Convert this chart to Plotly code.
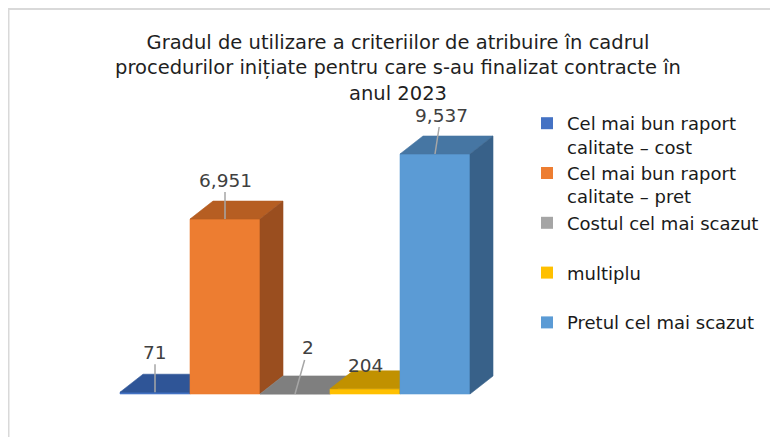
import plotly.graph_objects as go

# ---------------- data ----------------
CATEGORIES = [
    "Cel mai bun raport calitate – cost",
    "Cel mai bun raport calitate – pret",
    "Costul cel mai scazut",
    "multiplu",
    "Pretul cel mai scazut",
]
LEGEND_LABELS = [
    "Cel mai bun raport<br>calitate – cost",
    "Cel mai bun raport<br>calitate – pret",
    "Costul cel mai scazut<br>\u00a0",
    "multiplu<br>\u00a0",
    "Pretul cel mai scazut",
]
VALUES = [71, 6951, 2, 204, 9537]
TITLE = ("Gradul de utilizare a criteriilor de atribuire în cadrul<br>"
         "procedurilor inițiate pentru care s-au finalizat contracte în<br>"
         "anul 2023")

# ---------------- style ----------------
FRONT = ["#4472C4", "#ED7D31", "#A5A5A5", "#FFC000", "#5B9BD5"]
TOP = ["#2F5597", "#B65E22", "#7F7F7F", "#C19100", "#4676A3"]
SIDE = ["#243F70", "#9A4E1F", "#6B6B6B", "#A07800", "#386189"]

W, H = 778, 437
PAGE_MARGIN = 8        # browser default body margin (px)
BAR_PX = 70            # px per category
FIRST_CENTER_PX = 155 - PAGE_MARGIN   # first bar centre
BASE_PX = 394 - PAGE_MARGIN           # floor (from top)
MAX_BAR_PX = 240       # px height of the tallest bar
DEPTH_PX = (23, 18)    # 3-D depth offset in px

LABEL_OFFSETS = [(0, -40), (0, -39), (13, -46), (0, -23), (6, -39)]
LEADER = [True, True, True, False, True]

FONT = "DejaVu Sans"

# axis scales derived from the pixel layout
units_per_px = max(VALUES) / MAX_BAR_PX
x_range = [-FIRST_CENTER_PX / BAR_PX, (W - FIRST_CENTER_PX) / BAR_PX]
y_range = [-(H - BASE_PX) * units_per_px, BASE_PX * units_per_px]
dx = DEPTH_PX[0] / BAR_PX
dy = DEPTH_PX[1] * units_per_px

fig = go.Figure()

# real bars (front faces) – carry the legend
for i, v in enumerate(VALUES):
    fig.add_trace(go.Bar(
        x=[i], y=[v], width=1, name=LEGEND_LABELS[i],
        marker=dict(color=FRONT[i], line=dict(width=0)),
        hoverinfo="skip",
    ))

# 3-D faces drawn left to right so later bars hide earlier ones
def poly(xs, ys, color):
    return go.Scatter(
        x=xs + [xs[0]], y=ys + [ys[0]], mode="lines", fill="toself",
        fillcolor=color, line=dict(color=color, width=0.6),
        showlegend=False, hoverinfo="skip",
    )

for i, v in enumerate(VALUES):
    l, r = i - 0.5, i + 0.5
    fig.add_trace(poly([l, l, r, r], [0, v, v, 0], FRONT[i]))
    fig.add_trace(poly([l, l + dx, r + dx, r], [v, v + dy, v + dy, v], TOP[i]))
    fig.add_trace(poly([r, r, r + dx, r + dx], [0, v, v + dy, dy], SIDE[i]))

# data labels with leader lines
for i, v in enumerate(VALUES):
    ax, ay = LABEL_OFFSETS[i]
    fig.add_annotation(
        x=i, y=v, xref="x", yref="y", text=f"{v:,}",
        showarrow=True, arrowhead=0, arrowwidth=1.5, standoff=0,
        arrowcolor="#A6A6A6" if LEADER[i] else "rgba(0,0,0,0)",
        ax=ax, ay=ay, font=dict(family=FONT, size=18.5, color="#404040"),
    )

# chart border
fig.add_shape(type="rect", xref="paper", yref="paper",
              x0=0.5 / W, x1=1.05, y0=-0.05, y1=1 - 1 / H,
              line=dict(color="#D9D9D9", width=2), layer="above")

fig.update_layout(
    width=W, height=H, margin=dict(l=0, r=0, t=0, b=0),
    paper_bgcolor="white", plot_bgcolor="white",
    barmode="overlay",
    title=dict(text=TITLE, x=(398 - PAGE_MARGIN) / W, xanchor="center",
               y=1 - 41 / H, yanchor="top",
               font=dict(family=FONT, size=19.5, color="#1F1F1F")),
    xaxis=dict(range=x_range, visible=False, fixedrange=True),
    yaxis=dict(range=y_range, visible=False, fixedrange=True),
    legend=dict(x=519 / W, xanchor="left", y=1 - 97 / H, yanchor="top",
                font=dict(family=FONT, size=18, color="#1A1A1A"),
                valign="top", bgcolor="rgba(0,0,0,0)", tracegroupgap=0),
    showlegend=True,
)

fig.write_html("out.html")
